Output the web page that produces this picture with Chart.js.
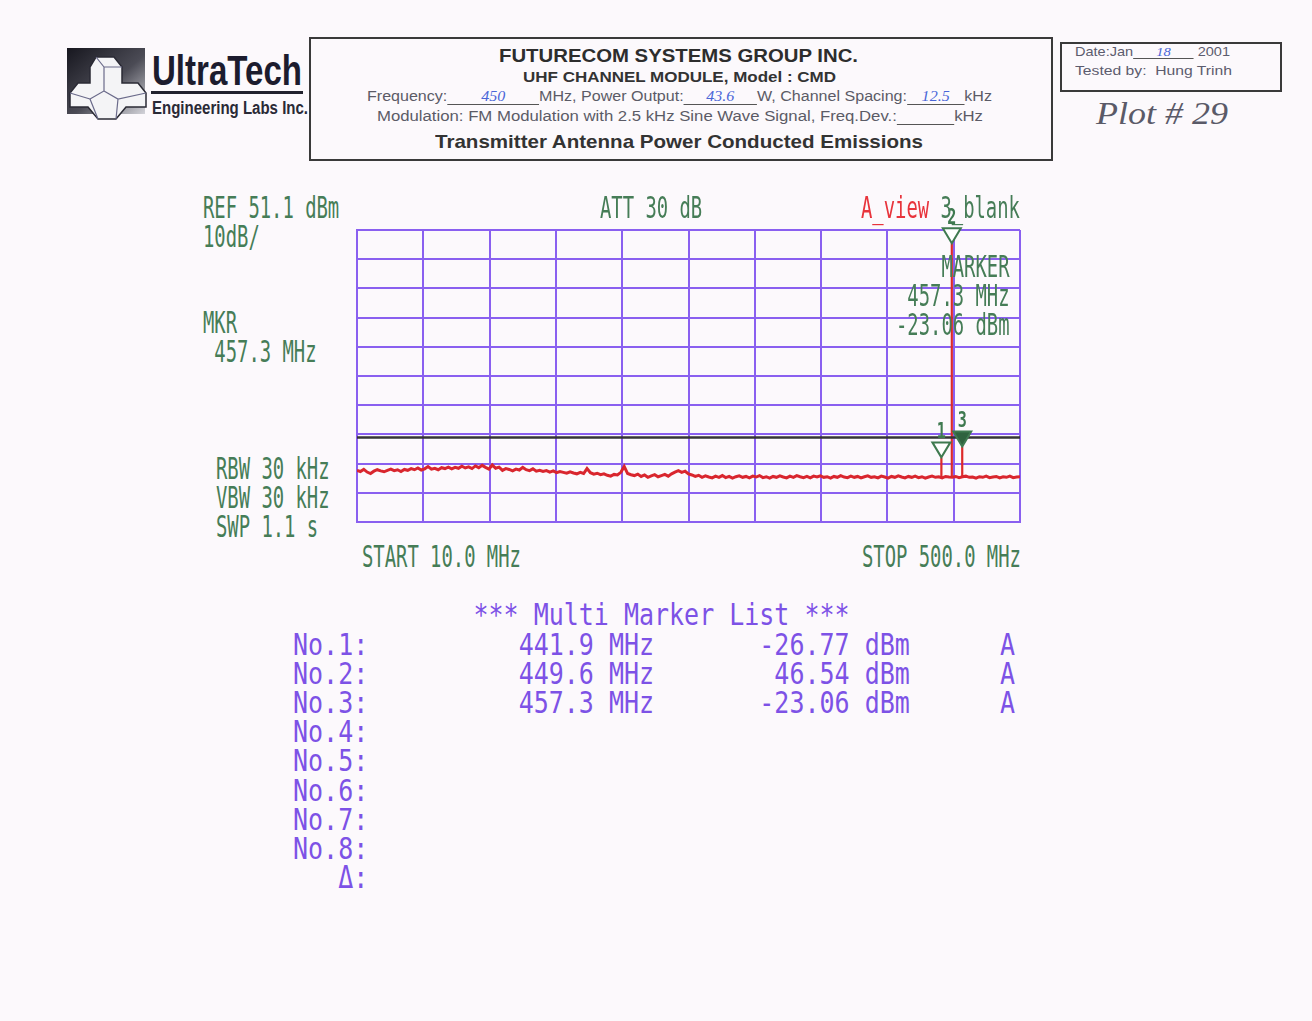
<!DOCTYPE html>
<html>
<head>
<meta charset="utf-8">
<script src="https://cdn.jsdelivr.net/npm/chart.js@4.4.1/dist/chart.umd.min.js"></script>
<style>
  html, body { margin: 0; padding: 0; }
  body { width: 1312px; height: 1021px; background: #fcf9fc; position: relative; overflow: hidden; font-family: "Liberation Sans", Arial, sans-serif; }
  .abs { position: absolute; white-space: pre; transform-origin: 0 0; }
  .box { position: absolute; border: 2px solid #3a3a3a; }
  .lcd { position: absolute; white-space: pre; font-family: "DejaVu Sans Mono", monospace; font-size: 30px; line-height: 29px; color: #467d57; transform: scaleX(0.6285); transform-origin: 0 0; }
  .lst { position: absolute; white-space: pre; font-family: "DejaVu Sans Mono", monospace; font-size: 31px; line-height: 29.2px; color: #7d52e6; transform: scaleX(0.806); transform-origin: 0 0; }
  .hw { display: inline-block; border-bottom: 1px solid #555; color: #4a66d8; font-family: "Liberation Serif", serif; font-style: italic; text-align: center; line-height: 1; }
  #chartBox { position: absolute; left: 355px; top: 200px; width: 667px; height: 324px; }
</style>
</head>
<body>

<!-- logo -->
<svg class="abs" style="left:66px;top:47px" width="86" height="82" viewBox="0 0 86 82">
  <defs>
    <linearGradient id="g" x1="0" y1="0" x2="1" y2="1">
      <stop offset="0" stop-color="#17171f"/>
      <stop offset="0.55" stop-color="#4b4b55"/>
      <stop offset="1" stop-color="#d4d4da"/>
    </linearGradient>
  </defs>
  <rect x="1" y="1" width="78" height="66" fill="url(#g)"/>
  <path d="M30 10 L48 10 L56 20 L56 36 L72 36 L80 46 L80 60 L60 60 L50 72 L32 72 L22 60 L4 60 L4 46 L12 36 L24 36 L24 20 Z" fill="#f4f4f6" stroke="#2a2a34" stroke-width="1.5"/>
  <path d="M30 10 L38 20 L56 20 M38 20 L38 44 L24 52 M38 44 L52 52 L80 46 M24 52 L4 46 M24 52 L32 72 M52 52 L50 72" fill="none" stroke="#6a6a8a" stroke-width="1.2"/>
</svg>
<div class="abs" data-w="150" style="left:152px;top:50px;font-size:42px;line-height:42px;font-weight:bold;color:#1c1c2e">UltraTech</div>
<div class="abs" style="left:151px;top:91px;width:152px;height:3px;background:#22222e"></div>
<div class="abs" data-w="156" style="left:152px;top:98.5px;font-size:18px;line-height:18px;font-weight:bold;color:#2a2a36">Engineering Labs Inc.</div>

<!-- header box -->
<div class="box" style="left:309px;top:37px;width:740px;height:120px"></div>
<div class="abs" data-w="359" style="left:499px;top:45.5px;font-size:19px;line-height:19px;font-weight:bold;color:#2d2d2d">FUTURECOM SYSTEMS GROUP INC.</div>
<div class="abs" data-w="313" style="left:523px;top:69px;font-size:15px;line-height:15px;font-weight:bold;color:#333">UHF CHANNEL MODULE, Model : CMD</div>
<div class="abs" data-w="625" style="left:367px;top:89px;font-size:14px;line-height:14px;color:#5b5b66">Frequency:<span class="hw" style="width:80px">450</span>MHz, Power Output:<span class="hw" style="width:64px">43.6</span>W, Channel Spacing:<span class="hw" style="width:50px">12.5</span>kHz</div>
<div class="abs" data-w="606" style="left:377px;top:109px;font-size:14px;line-height:14px;color:#5b5b66">Modulation: FM Modulation with 2.5 kHz Sine Wave Signal, Freq.Dev.:<span class="hw" style="width:48px"> </span>kHz</div>
<div class="abs" data-w="488" style="left:435px;top:131.5px;font-size:19px;line-height:19px;font-weight:bold;color:#333">Transmitter Antenna Power Conducted Emissions</div>

<!-- date box -->
<div class="box" style="left:1060px;top:42px;width:218px;height:46px"></div>
<div class="abs" data-w="155" style="left:1075px;top:45px;font-size:13px;line-height:13px;color:#5c5c6e">Date:Jan<span class="hw" style="width:54px">18</span> 2001</div>
<div class="abs" data-w="157" style="left:1075px;top:64px;font-size:13px;line-height:13px;color:#5c5c6e">Tested by:  Hung Trinh</div>
<div class="abs" data-w="132" style="left:1096px;top:97px;font-size:32px;line-height:32px;font-family:'Liberation Serif',serif;font-style:italic;color:#5a5a68">Plot # 29</div>

<!-- chart -->
<div id="chartBox"><canvas id="myChart" width="667" height="324"></canvas></div>

<!-- analyzer annotations -->
<div class="lcd" style="left:203px;top:193px">REF 51.1 dBm
10dB/</div>
<div class="lcd" style="left:203px;top:309px;line-height:28.5px">MKR
 457.3 MHz</div>
<div class="lcd" style="left:600px;top:193px">ATT 30 dB</div>
<div class="lcd" style="left:861px;top:193px"><span style="color:#e8343c">A_view</span> 3_blank</div>
<div class="lcd" id="mkrBlock" style="left:896px;top:252px"></div>
<div class="lcd" style="left:216px;top:454px">RBW 30 kHz
VBW 30 kHz
SWP 1.1 s</div>
<div class="lcd" style="left:362px;top:542px">START 10.0 MHz</div>
<div class="lcd" style="left:862px;top:542px">STOP 500.0 MHz</div>

<div class="lst" id="markerList" style="left:293px;top:600.3px"></div>

<script>
// sweep settings
const START = 10.0;   // MHz
const STOP = 500.0;   // MHz
const STEP = 2.5;     // MHz per trace bin
const REF = 51.1;     // dBm, top of screen
const DB_DIV = 10;
const LIMIT = -20;    // dBm display line

// trace, dBm, one value per bin from START
const traceLevels = [
  -31.2, -31.6, -30.9, -31.8, -32.3, -31.5, -31.0, -31.4, -31.7,
  -31.2, -30.8, -31.3, -31.0, -31.6, -30.9, -31.2, -30.6,
  -31.0, -30.4, -31.1, -30.7, -29.9, -30.8, -30.5, -31.0,
  -30.3, -30.6, -30.1, -30.7, -30.2, -30.5, -29.8, -30.4,
  -30.0, -30.6, -29.7, -30.3, -29.5, -30.2, -30.8, -29.4,
  -30.5, -30.1, -31.2, -30.6, -30.9, -31.4, -30.8, -31.1,
  -30.2, -31.0, -31.3, -30.7, -31.5, -31.2, -31.6, -31.3,
  -31.8, -31.4, -32.0, -31.6, -31.9, -32.2, -31.7, -32.1,
  -32.4, -31.9, -32.3, -30.6, -32.0, -32.5, -32.2, -32.7,
  -32.4, -32.9, -33.2, -32.6, -32.8, -31.9, -29.9, -32.3,
  -32.7, -33.0, -32.5, -33.3, -32.8, -33.6, -33.1, -32.7,
  -33.4, -33.0, -32.6, -33.2, -32.4, -31.8, -31.3, -31.9,
  -31.5, -32.4, -32.8, -33.3, -32.9, -33.6, -33.1, -33.5,
  -33.8, -33.2, -33.6, -33.0, -33.7, -33.3, -33.9, -33.4,
  -33.1, -33.6, -33.3, -33.8, -33.2, -33.5, -33.0, -33.7,
  -33.4, -33.9, -33.3, -33.6, -33.1, -33.5, -33.8, -33.2,
  -33.6, -33.0, -33.4, -33.7, -33.3, -33.8, -33.2, -33.5,
  -33.1, -33.6, -33.4, -33.9, -33.3, -33.6, -33.0, -33.5,
  -33.7, -33.2, -33.6, -33.3, -33.8, -33.4, -33.1, -33.6,
  -33.4, -33.8, -33.2, -33.5, -33.9, -33.3, -33.6, -33.1,
  -33.5, -33.8, -33.3, -33.6, -33.2, -33.7, -33.4, -33.9,
  -33.5, -33.2, -33.6, -33.4, -33.8, -33.3, -33.5, -33.6,
  -33.3, -33.7, -33.4, -33.2, -33.6, -33.5, -33.9, -33.4,
  -33.6, -33.2, -33.7, -33.5, -33.3, -33.8, -33.4, -33.6,
  -33.2, -33.7, -33.5, -33.4
];

// multi marker list
const markerFreqs = [441.9, 449.6, 457.3];
const markerLevels = [-26.77, 46.54, -23.06];
const activeMarker = 2; // index of marker 3

const GRID = '#8a60f0';
const GREEN = '#3f7a50';

// active marker readout, right aligned in a 10 char column
document.getElementById('mkrBlock').textContent = [
    'MARKER',
    markerFreqs[activeMarker].toFixed(1) + ' MHz',
    markerLevels[activeMarker].toFixed(2) + ' dBm'
].map(s => s.padStart(10)).join('\n');

const rows = [' '.repeat(12) + '*** Multi Marker List ***'];
for (let n = 1; n <= 8; n++) {
    let row = 'No.' + n + ':';
    if (n <= markerFreqs.length) {
        row += (markerFreqs[n - 1].toFixed(1) + ' MHz').padStart(19) +
               (markerLevels[n - 1].toFixed(2) + ' dBm').padStart(17) + '      A';
    }
    rows.push(row);
}
rows.push('   \u0394:');
document.getElementById('markerList').textContent = rows.join('\n');

// squeeze header texts to the widths on the sheet
document.querySelectorAll('[data-w]').forEach(el => {
    const w = el.getBoundingClientRect().width;
    el.style.transform = 'scaleX(' + (el.dataset.w / w) + ')';
});

const tracePoints = traceLevels.map((v, i) => ({x: START + i * STEP, y: v}));

const spurPoints = [];
markerFreqs.forEach((f, i) => {
    const floor = traceLevels[Math.round((f - START) / STEP)];
    spurPoints.push({x: f, y: floor}, {x: f, y: markerLevels[i]}, {x: f, y: null});
});

const markerPlugin = {
    id: 'markers',
    afterDatasetsDraw(chart) {
        const {ctx} = chart;
        const xs = chart.scales.x, ys = chart.scales.y;
        markerFreqs.forEach((f, i) => {
            const px = xs.getPixelForValue(f);
            const py = ys.getPixelForValue(markerLevels[i]);
            ctx.save();
            ctx.beginPath();
            ctx.moveTo(px, py);
            ctx.lineTo(px - 9, py - 15);
            ctx.lineTo(px + 9, py - 15);
            ctx.closePath();
            ctx.fillStyle = i === activeMarker ? '#2f633f' : '#ffffff';
            ctx.fill();
            ctx.lineWidth = 2;
            ctx.strokeStyle = GREEN;
            ctx.stroke();
            ctx.translate(px, py - 25);
            ctx.scale(0.72, 1);
            ctx.font = 'bold 21px "DejaVu Sans Mono"';
            ctx.textAlign = 'center';
            ctx.textBaseline = 'middle';
            ctx.fillStyle = GREEN;
            ctx.fillText(String(i + 1), 0, 0);
            ctx.restore();
        });
    }
};

function drawChart() {
    const ctx = document.getElementById('myChart').getContext('2d');
    new Chart(ctx, {
        type: 'line',
        data: {
            datasets: [{
                data: [{x: START, y: LIMIT}, {x: STOP, y: LIMIT}],
                borderColor: '#353535',
                borderWidth: 2.5,
                pointRadius: 0
            }, {
                data: tracePoints,
                borderColor: '#d9262e',
                borderWidth: 3,
                pointRadius: 0,
                tension: 0
            }, {
                data: spurPoints,
                borderColor: '#dd2a2a',
                borderWidth: 2.2,
                pointRadius: 0,
                spanGaps: false
            }]
        },
        options: {
            responsive: false,
            animation: false,
            events: [],
            layout: {padding: {left: 2, right: 2, top: 30, bottom: 2}},
            scales: {
                x: {
                    type: 'linear',
                    min: START,
                    max: STOP,
                    ticks: {display: false, count: 11},
                    grid: {color: GRID, lineWidth: 2, drawTicks: false},
                    border: {color: GRID, width: 2}
                },
                y: {
                    min: REF - 10 * DB_DIV,
                    max: REF,
                    ticks: {display: false, count: 11},
                    grid: {color: GRID, lineWidth: 2, drawTicks: false},
                    border: {color: GRID, width: 2}
                }
            },
            plugins: {
                legend: {display: false},
                tooltip: {enabled: false}
            }
        },
        plugins: [markerPlugin]
    });
}

drawChart();
</script>
</body>
</html>
